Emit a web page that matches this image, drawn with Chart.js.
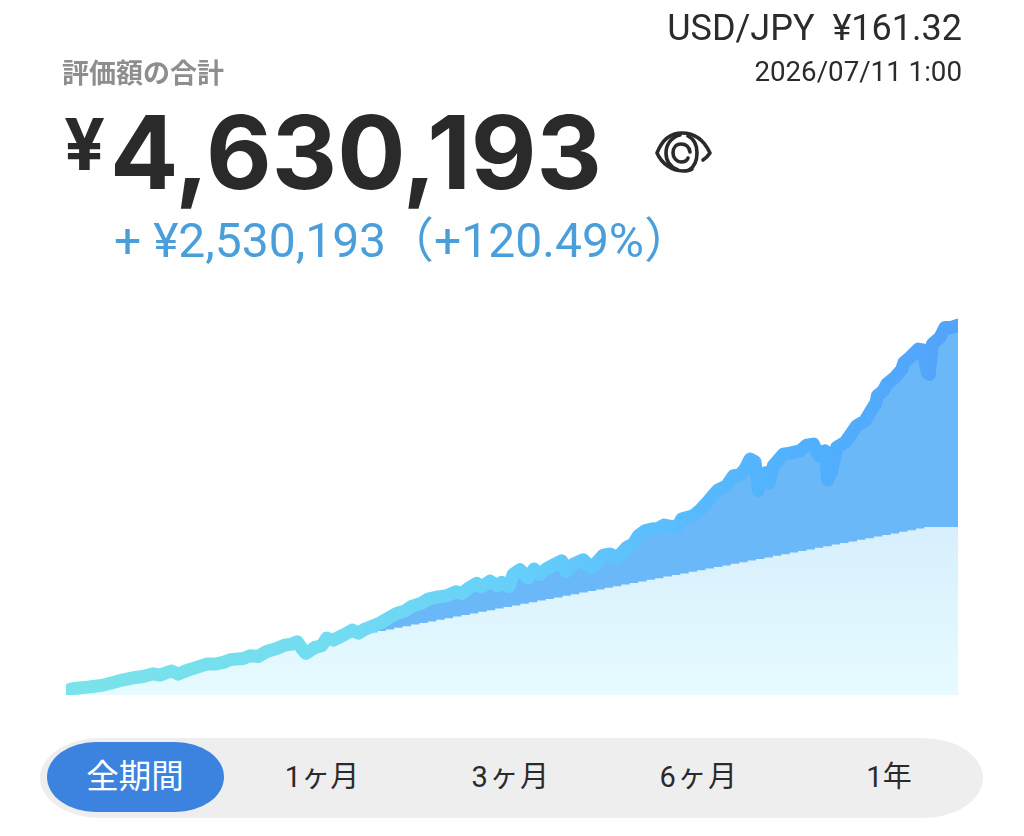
<!DOCTYPE html>
<html lang="ja"><head><meta charset="utf-8">
<script src="https://cdn.jsdelivr.net/npm/chart.js@4"></script>
<style>
html,body{margin:0;padding:0;background:#fff;width:1024px;height:836px;overflow:hidden}
#c{position:absolute;left:0;top:0;width:1024px;height:836px}
.t{position:absolute;white-space:pre;line-height:1;font-family:Roboto,"Noto Sans CJK JP",sans-serif}
.btn{position:absolute;top:757px;transform:translateX(-50%);font:400 29px/40px Roboto,"Noto Sans CJK JP",sans-serif;color:#2a2a2a;white-space:pre}
</style></head><body>
<canvas id="c" width="1024" height="836"></canvas>
<div class="t" style="right:62px;top:10px;font-size:36px;color:#2b2b2b">USD/JPY  ¥161.32</div>
<div class="t" style="right:62px;top:58px;font-size:27.7px;color:#2b2b2b">2026/07/11 1:00</div>
<div class="t" style="left:62px;top:58px;font-size:27px;font-weight:700;color:#8e8e8e;font-family:'Noto Sans CJK JP'">評価額の合計</div>
<div class="t" style="left:64px;top:108px;font-size:72px;font-weight:700;color:#2a2a2a;font-family:Inter">¥</div>
<div class="t" style="left:110px;top:102px;font-size:101.3px;font-weight:700;color:#2a2a2a;font-family:Inter">4,630,193</div>
<div class="t" style="left:114px;top:217px;font-size:48px;color:#4a9fdb;font-family:Roboto,'Noto Sans CJK JP'">+ ¥2,530,193（+120.49%）</div>
<svg style="position:absolute;left:645px;top:125px" width="75" height="55" viewBox="0 0 75 55" fill="none" stroke="#2a2a2a" stroke-width="3.6" stroke-linecap="round" stroke-linejoin="round">
<path d="M58 35C61 33 63 31 65 28C59 15 49 8 37 8S17 15 12 28C17 39 27 46 38 46c3 0 6 0 9-2"/>
<path d="M33 45C25 42 21 36 21 28S26 12 35 10M43 11c6 3 9 9 9 17s-3 14-8 17"/>
<path d="M45 27C44 21 41 19 36 19c-5 0-8 4-8 9s4 9 8 9c3 0 6-1 7-4"/>
</svg>
<div style="position:absolute;left:40px;top:738px;width:943px;height:80px;background:#eeeeee;border-radius:60px/40px"></div>
<div style="position:absolute;left:47px;top:742px;width:177px;height:70px;background:#3c83df;border-radius:50px/36px"></div>
<div class="btn" style="left:135px;color:#fff;font-size:32.5px">全期間</div>
<div class="btn" style="left:322px">1ヶ月</div>
<div class="btn" style="left:511px;letter-spacing:1.5px">3ヶ月</div>
<div class="btn" style="left:699px;letter-spacing:1.5px">6ヶ月</div>
<div class="btn" style="left:889px">1年</div>
<script>
const valueMonths=[0,0.5,1.07,2.26,3.24,4.43,5.62,6.81,8,9.19,10.37,11.17,11.97,12.56,13.35,14.34,15.53,16.72,17.71,18.69,19.49,21.07,21.87,22.85,23.85,25.04,26.02,26.82,27.49,28.01,28.52,29.59,30.39,30.98,31.76,32.95,34.02,34.74,35.53,36.33,37.31,38.3,39.3,40.29,41.08,42.27,43.05,44.24,45.24,46.35,47.02,47.81,48.81,49.4,50.39,51.25,51.78,52.64,53.15,53.95,54.94,55.61,56.33,57.12,57.91,58.91,59.42,60.28,61.47,62.47,63.85,64.65,65.51,66.63,67.41,68.01,68.81,69.6,70.39,71.06,71.57,72.57,73.17,74.55,75.34,76.14,76.92,77.52,78.51,79.3,80.1,80.69,81.28,81.88,82.27,82.74,83.27,83.54,84.05,85.24,86.04,87.23,88.02,88.81,89.52,90.19,90.52,90.99,91.58,92.57,93.28,93.96,94.95,95.54,96.26,96.41,97.12,97.53,98.51,99.31,99.58,100.29,101.28,101.8,102.35,102.59,102.95,103.86,104.46,105.25,106];
const totalValues=[20000,70000,82000,95000,107000,124000,157000,190000,215000,232000,265000,249000,282000,299000,261000,307000,345000,386000,386000,407000,442000,457000,490000,482000,545000,582000,624000,636000,665000,582000,520000,595000,615000,711000,686000,749000,811000,774000,824000,857000,899000,961000,1020000,1052000,1107000,1149000,1199000,1227000,1240000,1290000,1267000,1332000,1395000,1352000,1424000,1365000,1407000,1357000,1511000,1565000,1461000,1574000,1505000,1582000,1624000,1677000,1545000,1636000,1690000,1586000,1749000,1761000,1715000,1845000,1886000,1990000,2052000,2074000,2082000,2124000,2115000,2090000,2199000,2240000,2311000,2399000,2499000,2565000,2615000,2740000,2752000,2824000,2949000,2915000,2552000,2761000,2782000,2649000,2865000,3011000,3024000,3052000,3124000,3136000,2986000,3052000,2690000,2799000,3095000,3157000,3261000,3365000,3427000,3532000,3652000,3740000,3802000,3886000,3970000,4070000,4157000,4220000,4324000,4315000,4027000,4007000,4386000,4470000,4595000,4595000,4624000];
const principalValues=[40000,60000,80000,100000,120000,140000,160000,180000,200000,220000,240000,260000,280000,300000,320000,340000,360000,380000,400000,420000,440000,460000,480000,500000,520000,540000,560000,580000,600000,620000,640000,660000,680000,700000,720000,740000,760000,780000,800000,820000,840000,860000,880000,900000,920000,940000,960000,980000,1000000,1020000,1040000,1060000,1080000,1100000,1120000,1140000,1160000,1180000,1200000,1220000,1240000,1260000,1280000,1300000,1320000,1340000,1360000,1380000,1400000,1420000,1440000,1460000,1480000,1500000,1520000,1540000,1560000,1580000,1600000,1620000,1640000,1660000,1680000,1700000,1720000,1740000,1760000,1780000,1800000,1820000,1840000,1860000,1880000,1900000,1920000,1940000,1960000,1980000,2000000,2020000,2040000,2060000,2080000,2100000,2100000,2100000,2100000];

const totalPts=valueMonths.map((m,i)=>({x:m,y:totalValues[i]}));
const principalPts=principalValues.map((v,i)=>({x:i,y:v}));

function lineGrad(ctx){
  const {chart}=ctx; const a=chart.chartArea; if(!a) return '#66cef9';
  const g=chart.ctx.createLinearGradient(a.left,0,a.right,0);
  g.addColorStop(0,'#7ae3ea');g.addColorStop(.3,'#72dcf1');g.addColorStop(.5,'#66cffa');
  g.addColorStop(.66,'#5bbefd');g.addColorStop(.83,'#50b0fd');g.addColorStop(1,'#53a3fb');
  return g;
}
function baseGrad(ctx){
  const {chart}=ctx; const a=chart.chartArea; if(!a) return '#e0f6ff';
  const s=chart.scales.y;
  const g=chart.ctx.createLinearGradient(0,s.getPixelForValue(2100000),0,a.bottom);
  g.addColorStop(0,'#d7effd');g.addColorStop(1,'#e6fbff');
  return g;
}
new Chart(document.getElementById('c'),{
  type:'line',
  data:{datasets:[
    {data:totalPts,order:3,borderWidth:0,pointRadius:0,fill:'origin',backgroundColor:'#6bb8f9',clip:0},
    {data:principalPts,order:2,stepped:'after',borderWidth:0,pointRadius:0,fill:'origin',backgroundColor:baseGrad,clip:0},
    {data:totalPts,order:1,borderWidth:13,borderColor:lineGrad,pointRadius:0,fill:false,borderCapStyle:'round',borderJoinStyle:'round',clip:0}
  ]},
  options:{
    responsive:false,animation:false,devicePixelRatio:1,
    layout:{padding:{left:66,right:66,top:303,bottom:141}},
    plugins:{legend:{display:false},tooltip:{enabled:false}},
    scales:{
      x:{type:'linear',display:false,min:0,max:106},
      y:{display:false,min:0,max:4900000}
    }
  }
});
</script>
</body></html>
